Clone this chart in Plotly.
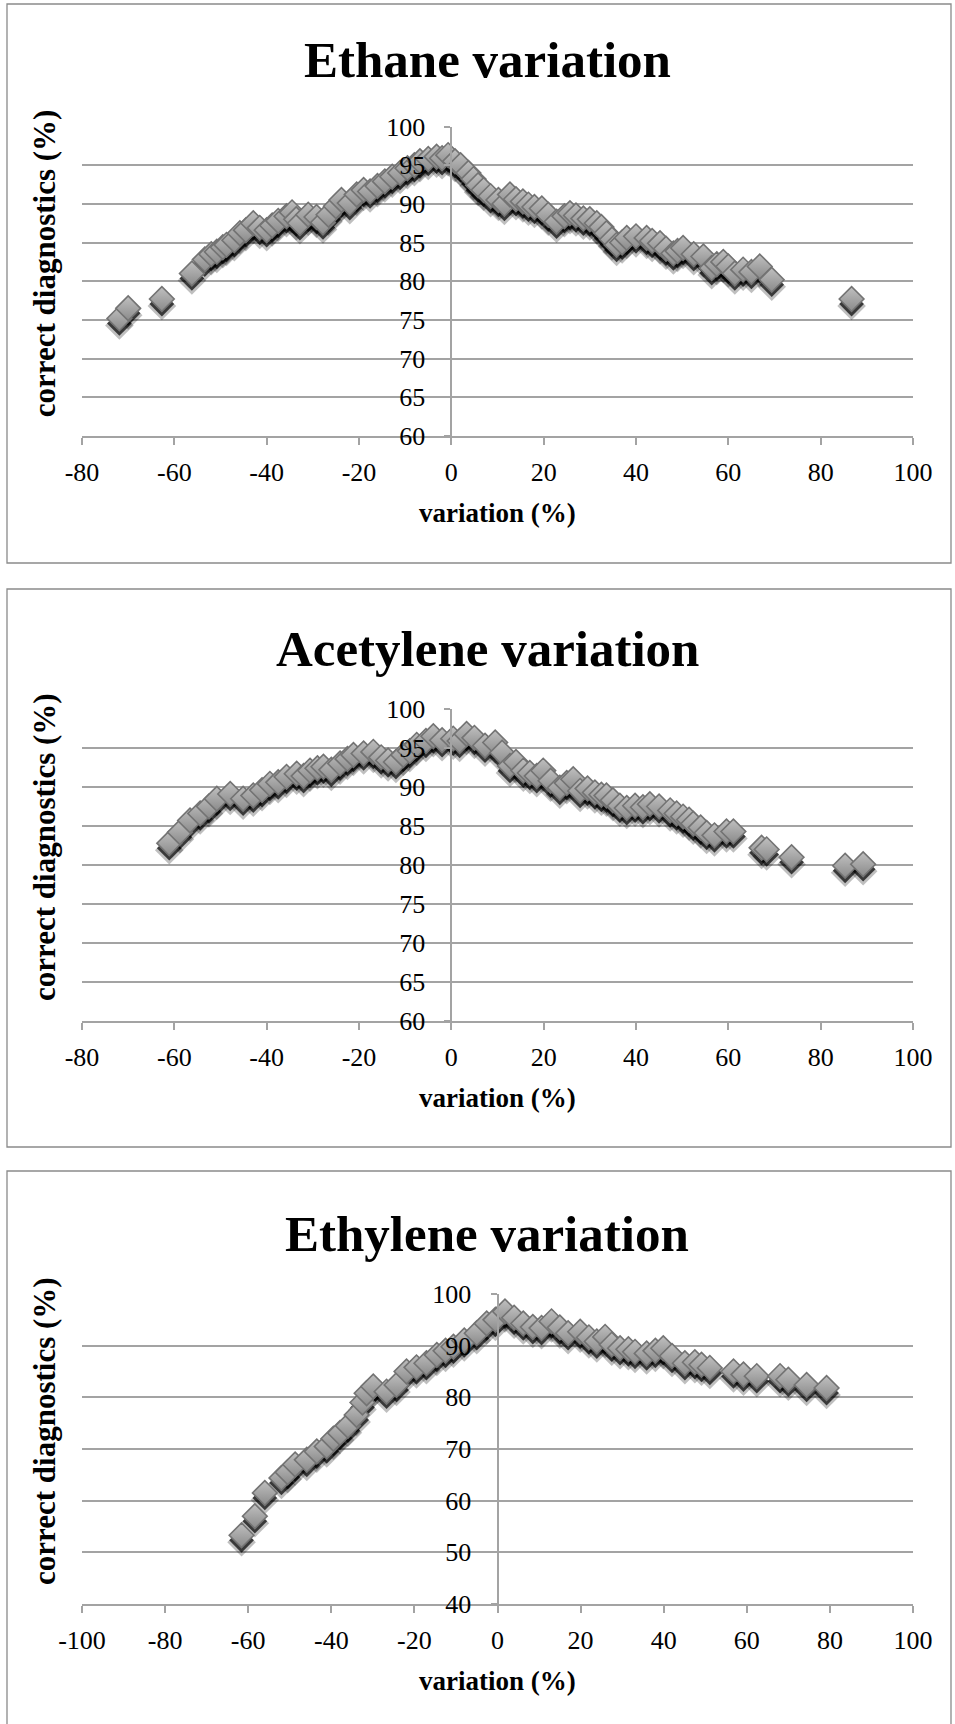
import plotly.graph_objects as go

# ---- data: variation (%) vs correct diagnostics (%) ----
ethane_x = [-71.9, -70.0, -62.7, -56.2, -53.4, -52.0, -50.8, -49.5, -48.7, -47.0,
            -45.8, -44.5, -42.9, -41.5, -40.0, -38.8, -37.5, -35.7, -34.5, -33.6,
            -32.8, -31.0, -29.2, -27.8, -26.6, -25.0, -23.8, -22.0, -20.5, -19.0,
            -17.6, -16.0, -14.4, -12.8, -11.1, -9.5, -8.0, -6.8, -5.0, -3.2,
            -2.0, -0.7, 0.8, 2.0, 3.7, 4.8, 5.8, 7.0, 8.5, 10.2,
            11.5, 12.7, 14.0, 15.5, 16.7, 18.0, 19.6, 21.0, 22.8, 24.5,
            25.7, 27.0, 28.6, 30.0, 31.5, 32.5, 33.6, 34.8, 35.8, 37.0,
            38.0, 40.0, 42.3, 43.5, 45.2, 46.5, 48.1, 49.0, 50.2, 52.5,
            54.6, 56.4, 57.5, 58.9, 60.0, 61.4, 63.2, 65.0, 66.8, 69.4, 86.7]
ethane_y = [75.2, 76.5, 77.7, 81.0, 82.8, 83.5, 83.8, 84.4, 84.7, 85.3,
            86.2, 86.6, 87.5, 86.9, 86.6, 87.2, 87.8, 88.4, 88.9, 88.0,
            87.5, 88.6, 88.3, 87.6, 88.6, 89.7, 90.5, 90.1, 91.2, 91.8,
            91.6, 92.3, 92.9, 93.5, 94.0, 94.6, 95.0, 95.5, 95.8, 96.1,
            95.9, 96.3, 95.5, 95.0, 94.0, 93.2, 92.4, 91.8, 91.0, 90.5,
            90.0, 91.2, 90.6, 90.3, 89.9, 89.6, 89.4, 88.6, 87.7, 88.4,
            88.8, 88.5, 88.1, 88.0, 87.5, 87.0, 86.2, 85.4, 84.7, 85.0,
            85.6, 85.8, 85.6, 85.2, 84.9, 84.2, 83.6, 83.9, 84.3, 83.5,
            83.2, 81.7, 82.2, 82.5, 81.9, 81.0, 81.5, 81.2, 81.9, 80.2, 77.7]

acetylene_x = [-61.1, -58.8, -56.6, -54.4, -52.5, -50.8, -47.9, -45.1, -42.9, -41.0,
               -39.3, -37.5, -35.7, -33.5, -32.0, -30.6, -29.0, -27.7, -26.0, -24.1,
               -22.5, -21.2, -19.0, -16.9, -15.2, -13.7, -12.0, -10.4, -9.0, -7.5,
               -5.5, -3.9, -2.0, 0.4, 1.8, 3.3, 5.0, 7.3, 9.5, 11.0,
               12.7, 14.0, 15.6, 17.0, 18.5, 19.9, 21.5, 23.5, 25.0, 26.4,
               27.9, 29.5, 31.1, 32.5, 33.6, 35.0, 36.5, 38.0, 39.8, 41.5,
               43.0, 45.0, 47.4, 48.8, 50.2, 51.5, 52.4, 54.0, 55.3, 57.0,
               59.6, 61.1, 67.2, 68.3, 73.7, 85.3, 89.2]
acetylene_y = [82.8, 84.2, 85.7, 86.6, 87.5, 88.5, 89.1, 88.5, 88.9, 89.6,
               90.4, 90.6, 91.3, 91.7, 91.4, 92.1, 92.4, 92.6, 92.2, 93.0,
               93.6, 94.1, 94.3, 94.5, 93.8, 93.4, 93.2, 94.1, 94.6, 95.4,
               95.9, 96.5, 96.0, 96.2, 95.9, 96.8, 96.3, 95.3, 95.7, 94.4,
               92.7, 93.2, 92.1, 91.8, 91.4, 92.1, 90.8, 89.9, 90.5, 91.0,
               89.5, 89.8, 89.3, 89.0, 88.9, 88.3, 87.6, 87.3, 87.6, 87.4,
               87.8, 87.5, 87.0, 86.6, 86.2, 85.8, 85.3, 84.8, 84.1, 83.8,
               84.3, 84.3, 82.2, 82.0, 81.0, 79.9, 80.1]

ethylene_x = [-61.6, -58.4, -56.0, -52.0, -50.5, -48.7, -45.9, -43.5, -41.1, -39.5,
              -37.9, -36.0, -33.9, -32.5, -31.5, -29.9, -26.7, -24.3, -21.9, -19.5,
              -17.1, -14.6, -12.5, -10.6, -8.0, -5.0, -2.6, -0.5, 1.8, 4.0,
              6.2, 8.5, 10.6, 13.0, 15.0, 17.0, 19.9, 22.0, 23.9, 25.9,
              27.5, 29.5, 31.5, 33.1, 35.9, 38.0, 39.9, 42.0, 45.1, 47.5,
              49.1, 51.1, 56.8, 59.2, 62.4, 68.0, 70.0, 74.4, 79.2]
ethylene_y = [53.3, 57.0, 61.5, 64.4, 65.5, 67.0, 67.9, 69.5, 70.5, 72.0,
              73.1, 74.5, 76.6, 79.0, 80.8, 82.1, 81.1, 82.4, 85.0, 85.8,
              86.6, 88.2, 89.0, 89.8, 91.0, 92.4, 94.3, 95.0, 96.6, 95.4,
              94.3, 93.6, 93.4, 94.7, 93.5, 92.4, 92.7, 91.6, 90.8, 91.7,
              90.2, 89.5, 89.3, 88.8, 88.5, 89.0, 89.5, 88.0, 86.6, 86.8,
              86.3, 85.7, 85.0, 84.4, 84.1, 84.1, 83.4, 82.4, 81.8]

# ---- tick labels ----
x_ticks_80 = [-80, -60, -40, -20, 0, 20, 40, 60, 80, 100]
x_ticks_100 = [-100, -80, -60, -40, -20, 0, 20, 40, 60, 80, 100]
y_ticks_60 = [60, 65, 70, 75, 80, 85, 90, 95, 100]
y_ticks_40 = [40, 50, 60, 70, 80, 90, 100]

# ---- chart definitions ----
titles = ["Ethane variation", "Acetylene variation", "Ethylene variation"]
x_ranges = [(-80, 100), (-80, 100), (-100, 100)]
y_ranges = [(60, 100), (60, 100), (40, 100)]
x_ticks = [x_ticks_80, x_ticks_80, x_ticks_100]
y_ticks = [y_ticks_60, y_ticks_60, y_ticks_40]
series = [(ethane_x, ethane_y), (acetylene_x, acetylene_y), (ethylene_x, ethylene_y)]

W, H = 955, 1724
# pixel geometry of each panel: plot area (left, right, top, bottom), title centre, frame
plot_px = [(82, 913, 126.5, 436), (82, 913, 709, 1021), (82, 913, 1294, 1604)]
title_y_px = [60, 649, 1234]
frame_px = [(7, 951, 4, 563), (7, 951, 589, 1147), (7, 951, 1171, 1740)]

SERIF = "Liberation Serif, Times New Roman, serif"
GRID = "#a3a3a3"


def px_x(v):
    return v / W


def px_y(v):
    return 1 - v / H


fig = go.Figure()
layout = dict(
    width=W, height=H,
    margin=dict(l=0, r=0, t=0, b=0, autoexpand=False),
    paper_bgcolor="white", plot_bgcolor="white",
    showlegend=False,
    annotations=[], shapes=[],
)

for i in range(3):
    n = "" if i == 0 else str(i + 1)
    xa, ya = "xaxis" + n, "yaxis" + n
    l, r, t, b = plot_px[i]
    xmin, xmax = x_ranges[i]
    ymin, ymax = y_ranges[i]
    # the value axis crosses the category axis at x = 0
    zero_frac = px_x(l + (0 - xmin) / (xmax - xmin) * (r - l))

    layout[xa] = dict(
        domain=[px_x(l), px_x(r)], range=[xmin, xmax], anchor="y" + n,
        automargin=False,
        tickmode="array", tickvals=x_ticks[i],
        ticktext=[str(v) for v in x_ticks[i]],
        showgrid=False, zeroline=False,
        showline=True, linecolor=GRID, linewidth=2,
        ticks="outside", ticklen=7, tickwidth=1.5, tickcolor=GRID,
        ticklabelstandoff=5,
        tickfont=dict(family=SERIF, size=26, color="black"),
    )
    layout[ya] = dict(
        domain=[px_y(b), px_y(t)], range=[ymin, ymax], anchor="free",
        position=zero_frac, automargin=False,
        tickmode="array", tickvals=y_ticks[i],
        ticktext=[str(v) for v in y_ticks[i]],
        showgrid=True, gridcolor=GRID, gridwidth=2, zeroline=False,
        showline=True, linecolor=GRID, linewidth=2,
        ticks="outside", ticklen=6, tickwidth=1.5, tickcolor=GRID,
        ticklabelstandoff=14,
        tickfont=dict(family=SERIF, size=26, color="black"),
    )

    xs, ys = series[i]
    # soft drop shadow beneath the diamonds
    fig.add_trace(go.Scatter(
        x=xs, y=ys, xaxis="x" + n, yaxis="y" + n, mode="markers",
        hoverinfo="skip",
        marker=dict(symbol="diamond", size=22, color="rgba(0,0,0,0.25)",
                    angle=0, standoff=7, line=dict(width=0)),
    ))
    fig.add_trace(go.Scatter(
        x=xs, y=ys, xaxis="x" + n, yaxis="y" + n, mode="markers",
        hoverinfo="skip",
        marker=dict(symbol="diamond", size=19, color="rgba(0,0,0,0.7)",
                    angle=0, standoff=5, line=dict(width=0)),
    ))
    fig.add_trace(go.Scatter(
        x=xs, y=ys, xaxis="x" + n, yaxis="y" + n, mode="markers",
        name=titles[i],
        marker=dict(symbol="diamond", size=19, color="#c0c0c0",
                    gradient=dict(type="vertical", color="#8a8a8a"),
                    line=dict(color="#737373", width=1.6)),
    ))

    # chart title and axis titles
    layout["annotations"].append(dict(
        text="<b>%s</b>" % titles[i], xref="paper", yref="paper",
        x=px_x(487), y=px_y(title_y_px[i]), xanchor="center", yanchor="middle",
        showarrow=False, font=dict(family=SERIF, size=51, color="black"),
    ))
    layout["annotations"].append(dict(
        text="<b>variation (%)</b>", xref="paper", yref="paper",
        x=px_x(497), y=px_y(b + 77), xanchor="center", yanchor="middle",
        showarrow=False, font=dict(family=SERIF, size=27, color="black"),
    ))
    layout["annotations"].append(dict(
        text="<b>correct diagnostics (%)</b>", xref="paper", yref="paper",
        x=px_x(44), y=px_y((t + b) / 2 - 18), xanchor="center", yanchor="middle",
        textangle=-90, showarrow=False,
        font=dict(family=SERIF, size=31, color="black"),
    ))

    # chart frame
    fx0, fx1, fy0, fy1 = frame_px[i]
    layout["shapes"].append(dict(
        type="rect", xref="paper", yref="paper",
        x0=px_x(fx0), x1=px_x(fx1), y0=px_y(fy1), y1=px_y(fy0),
        line=dict(color="#8a8a8a", width=1.3), fillcolor="rgba(0,0,0,0)",
        layer="below",
    ))

fig.update_layout(**layout)
fig.write_html("out.html")
